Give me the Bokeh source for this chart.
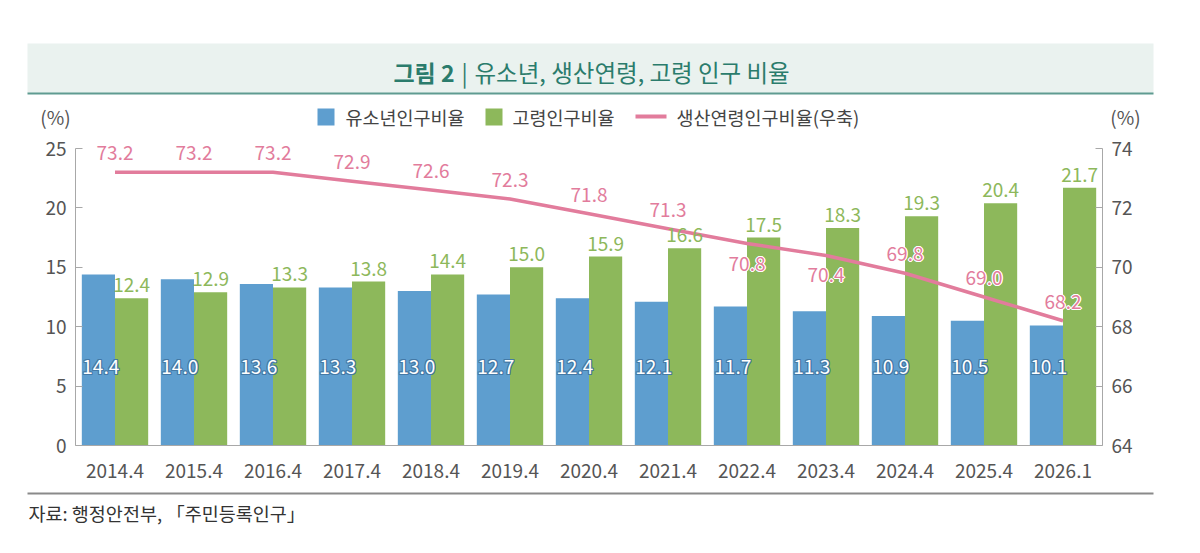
from bokeh.plotting import figure
from bokeh.models import (Range1d, LinearAxis, Label, BoxAnnotation,
                          FixedTicker, ColumnDataSource)
from bokeh.transform import dodge
from bokeh.core.properties import value
from bokeh.embed import file_html
from bokeh.resources import INLINE

# ---- data -------------------------------------------------------------
periods = ["2014.4", "2015.4", "2016.4", "2017.4", "2018.4", "2019.4", "2020.4",
           "2021.4", "2022.4", "2023.4", "2024.4", "2025.4", "2026.1"]
youth_ratio = [14.4, 14.0, 13.6, 13.3, 13.0, 12.7, 12.4, 12.1, 11.7, 11.3, 10.9, 10.5, 10.1]
elderly_ratio = [12.4, 12.9, 13.3, 13.8, 14.4, 15.0, 15.9, 16.6, 17.5, 18.3, 19.3, 20.4, 21.7]
working_ratio = [73.2, 73.2, 73.2, 72.9, 72.6, 72.3, 71.8, 71.3, 70.8, 70.4, 69.8, 69.0, 68.2]
left_ticks = [0, 5, 10, 15, 20, 25]
right_ticks = [64, 66, 68, 70, 72, 74]

title_bold = "그림 2"
title_rest = "유소년, 생산연령, 고령 인구 비율"
legend_names = ["유소년인구비율", "고령인구비율", "생산연령인구비율(우축)"]
source_note = "자료: 행정안전부, 「주민등록인구」"

# ---- style ------------------------------------------------------------
FONT = "Noto Sans CJK KR"
BLUE = "#5e9ecf"
GREEN = "#8db85b"
PINK = "#e27c9c"
TEAL = "#2b7c6c"
AXIS_TXT = "#555555"
AXIS_LINE = "#a8a8a8"

W, H = 1200, 553
# plotting area edges in page pixels (the frame itself spans the whole page,
# so headers and notes can be laid out inside it)
PL, PR, PT, PB = 75, 1102, 148, 445

n = len(periods)
x_per_px = n / (PR - PL)
y_per_px = (left_ticks[-1] - left_ticks[0]) / (PB - PT)
r_per_px = (right_ticks[-1] - right_ticks[0]) / (PB - PT)


def sx(px):
    return px


def sy(py):
    return H - py


# working-age labels that sit under the line instead of above it
below_line = {"2022.4", "2023.4"}

src = ColumnDataSource(dict(
    pos=[i + 0.5 for i in range(n)],
    youth=youth_ratio,
    elderly=elderly_ratio,
    working=working_ratio,
    youth_lbl=[f"{v:.1f}" for v in youth_ratio],
    elderly_lbl=[f"{v:.1f}" for v in elderly_ratio],
    working_lbl=[f"{v:.1f}" for v in working_ratio],
    working_off=[20 if p in below_line else -19 for p in periods],
))

p = figure(width=W, height=H,
           x_range=Range1d(-PL * x_per_px, n + (W - PR) * x_per_px),
           y_range=Range1d(-(H - PB) * y_per_px, PB * y_per_px),
           output_backend="svg", toolbar_location=None,
           x_axis_type=None, y_axis_type=None,
           min_border=0, background_fill_color="white",
           border_fill_color="white", outline_line_color=None)
p.grid.visible = False
p.extra_y_ranges = {"right": Range1d(right_ticks[0] - (H - PB) * r_per_px,
                                     right_ticks[0] + PB * r_per_px)}

# ---- axes -------------------------------------------------------------
axis_style = dict(axis_line_color=AXIS_LINE, minor_tick_line_color=None,
                  major_label_text_font=FONT, major_label_text_color=AXIS_TXT)

x_axis = LinearAxis(fixed_location=0, bounds=(0, n),
                    ticker=FixedTicker(ticks=[i + 0.5 for i in range(n)]),
                    major_label_overrides={i + 0.5: lab for i, lab in enumerate(periods)},
                    major_tick_line_color=None, major_label_standoff=12,
                    major_label_text_font_size="19px", **axis_style)
p.add_layout(x_axis, "below")

left_axis = LinearAxis(fixed_location=0, bounds=(left_ticks[0], left_ticks[-1]),
                       ticker=FixedTicker(ticks=left_ticks),
                       major_tick_line_color=AXIS_LINE, major_tick_in=7,
                       major_tick_out=0, major_label_standoff=9,
                       major_label_text_font_size="19px", **axis_style)
p.add_layout(left_axis, "left")

right_axis = LinearAxis(y_range_name="right", fixed_location=n,
                        bounds=(right_ticks[0], right_ticks[-1]),
                        ticker=FixedTicker(ticks=right_ticks),
                        major_tick_line_color=AXIS_LINE, major_tick_in=7,
                        major_tick_out=0, major_label_standoff=9,
                        major_label_text_font_size="19px", **axis_style)
p.add_layout(right_axis, "right")

# ---- bars -------------------------------------------------------------
p.vbar(x=dodge("pos", -0.21), top="youth", width=0.42,
       source=src, fill_color=BLUE, line_color=None)
p.vbar(x=dodge("pos", 0.21), top="elderly", width=0.42,
       source=src, fill_color=GREEN, line_color=None)

# ---- working-age line (right axis) -------------------------------------
p.line(x="pos", y="working", source=src, y_range_name="right",
       line_color=PINK, line_width=3.5)

# ---- value labels -----------------------------------------------------
text_style = dict(text_font=value(FONT), text_font_size="19px",
                  text_align="center", text_baseline="middle", source=src)
halo = [(-1, -1), (1, -1), (-1, 1), (1, 1), (0, -1), (0, 1), (-1, 0), (1, 0)]

# youth: white figures with a thin blue outline, low inside the bar
for dx, dy in halo:
    p.text(x=dodge("pos", -0.18), y=6.6, text="youth_lbl", x_offset=dx, y_offset=dy,
           text_color="#4479a6", **text_style)
p.text(x=dodge("pos", -0.18), y=6.6, text="youth_lbl", text_color="white", **text_style)

# elderly: green figures just above each bar
p.text(x=dodge("pos", 0.21), y="elderly", text="elderly_lbl", y_offset=-6,
       text_font=value(FONT), text_font_size="19px", text_color=GREEN,
       text_align="center", text_baseline="bottom", source=src)

# working-age: pink figures with a white halo next to the line
for dx, dy in halo:
    p.text(x=dodge("pos", dx * x_per_px), y="working", text="working_lbl",
           y_range_name="right", y_offset="working_off",
           text_color="white", **text_style)
    p.text(x="pos", y=dodge("working", -dy * r_per_px, range=p.extra_y_ranges["right"]),
           text="working_lbl", y_range_name="right", y_offset="working_off",
           text_color="white", **text_style)
p.text(x="pos", y="working", text="working_lbl", y_range_name="right",
       y_offset="working_off", text_color=PINK, **text_style)

# ---- header band ------------------------------------------------------
def box(x0, x1, y0, y1, color):
    return BoxAnnotation(left=sx(x0), right=sx(x1), top=sy(y0), bottom=sy(y1),
                         left_units="screen", right_units="screen",
                         top_units="screen", bottom_units="screen",
                         fill_color=color, fill_alpha=1.0, line_color=None,
                         level="underlay")


p.add_layout(box(27, 1153, 43, 93, "#eaf2ef"))
p.add_layout(box(27, 1153, 92, 94, "#5f9b91"))
p.add_layout(box(27, 1153, 492, 494, "#8a8a8a"))


def label(x, y, text, size, color, align="left", style="normal"):
    p.add_layout(Label(x=sx(x), y=sy(y), x_units="screen", y_units="screen",
                       text=text, text_font=FONT, text_font_size=size,
                       text_color=color, text_align=align, text_baseline="middle",
                       text_font_style=style))


label(454, 71, title_bold, "23px", TEAL, align="right", style="bold")
label(464, 71, "|", "23px", TEAL, align="center")
label(474, 71, title_rest, "23.5px", TEAL)

# ---- legend -----------------------------------------------------------
p.add_layout(box(317, 334, 108, 125, BLUE))
label(345, 116, legend_names[0], "18.5px", "#444444")
p.add_layout(box(485, 502, 108, 125, GREEN))
label(512, 116, legend_names[1], "18.5px", "#444444")
p.add_layout(box(635, 666, 114, 118, PINK))
label(676, 116, legend_names[2], "18.5px", "#444444")

# axis unit marks
label(55, 116, "(%)", "19px", AXIS_TXT, align="center")
label(1125, 116, "(%)", "19px", AXIS_TXT, align="center")

# ---- source note ------------------------------------------------------
label(28, 512, source_note, "18.5px", "#333333")

open("out.html", "w").write(file_html(p, INLINE))
